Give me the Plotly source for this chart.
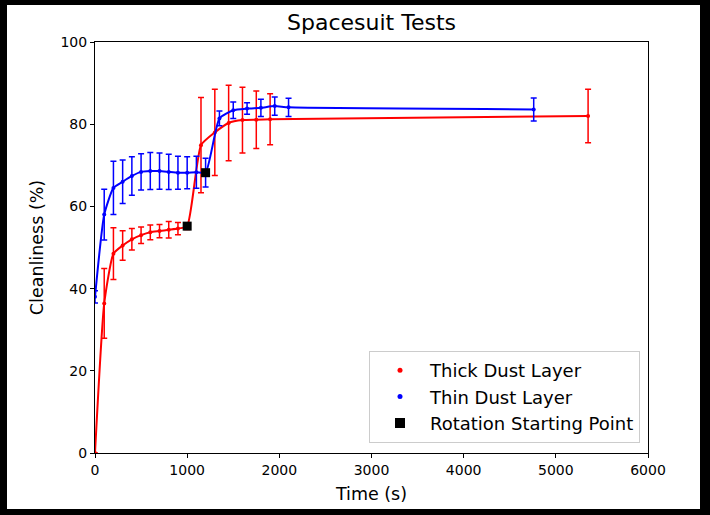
import plotly.graph_objects as go

# Thick dust layer (red)
thick_t = [0, 100, 200, 300, 400, 500, 600, 700, 800, 900, 1000,
           1150, 1300, 1450, 1600, 1750, 1900, 5350]
thick_c = [0, 36.4, 48.5, 50.5, 52.0, 53.0, 53.7, 54.0, 54.3, 54.6, 55.2,
           74.9, 78.0, 80.3, 81.0, 81.1, 81.2, 82.0]
thick_e = [0, 8.5, 6.3, 3.6, 2.6, 2.0, 1.8, 1.6, 2.0, 1.5, 0.8,
           11.6, 10.5, 9.2, 8.0, 7.0, 6.2, 6.5]

# Thin dust layer (blue)
thin_t = [0, 100, 200, 300, 400, 500, 600, 700, 800, 900, 1000, 1100, 1200,
          1350, 1500, 1650, 1800, 1950, 2100, 4760]
thin_c = [38.0, 58.0, 64.5, 66.0, 67.4, 68.4, 68.6, 68.6, 68.4, 68.2, 68.2, 68.3, 68.2,
          81.4, 83.4, 83.8, 84.0, 84.4, 84.1, 83.6]
thin_e = [1.5, 6.2, 6.5, 5.3, 4.7, 4.4, 4.5, 4.4, 4.3, 4.0, 3.9, 3.9, 3.5,
          1.8, 2.0, 1.4, 2.1, 2.2, 2.2, 2.8]

# Rotation starting points
rot_t = [1000, 1200]
rot_c = [55.2, 68.2]

fig = go.Figure()

fig.add_trace(go.Scatter(
    x=thick_t, y=thick_c, mode="lines+markers",
    line=dict(color="#ff0000", width=2, shape="spline", smoothing=0.5),
    marker=dict(color="#ff0000", size=4),
    error_y=dict(type="data", array=thick_e, visible=True, color="#ff0000",
                 thickness=1.5, width=3),
    showlegend=False))

fig.add_trace(go.Scatter(
    x=thin_t, y=thin_c, mode="lines+markers",
    line=dict(color="#0000ff", width=2, shape="spline", smoothing=0.5),
    marker=dict(color="#0000ff", size=4),
    error_y=dict(type="data", array=thin_e, visible=True, color="#0000ff",
                 thickness=1.5, width=3),
    showlegend=False))

fig.add_trace(go.Scatter(
    x=rot_t, y=rot_c, mode="markers",
    marker=dict(color="black", size=9, symbol="square"),
    showlegend=False))

# legend entries
fig.add_trace(go.Scatter(x=[None], y=[None], mode="markers", name="Thick Dust Layer",
                         marker=dict(color="#ff0000", size=5)))
fig.add_trace(go.Scatter(x=[None], y=[None], mode="markers", name="Thin Dust Layer",
                         marker=dict(color="#0000ff", size=5)))
fig.add_trace(go.Scatter(x=[None], y=[None], mode="markers", name="Rotation Starting Point",
                         marker=dict(color="black", size=10, symbol="square")))

L, R, T, B = 95, 62, 42, 62
W, H = 710, 515
pw, ph = W - L - R, H - T - B

def px_to_paper_x(px):
    return (px - L) / pw

def px_to_paper_y(py):
    return (H - B - py) / ph

fig.add_shape(type="rect", xref="paper", yref="paper",
              x0=px_to_paper_x(7), x1=px_to_paper_x(700),
              y0=px_to_paper_y(509), y1=px_to_paper_y(5),
              fillcolor="white", line=dict(width=0), layer="below")

axis_common = dict(showline=True, linecolor="black", linewidth=1, mirror=True,
                   ticks="outside", ticklen=4, tickcolor="black", showgrid=False,
                   zeroline=False, tickfont=dict(size=14, color="black"))

fig.update_layout(
    width=W, height=H,
    margin=dict(l=L, r=R, t=T, b=B),
    paper_bgcolor="black", plot_bgcolor="white",
    font=dict(family="DejaVu Sans", color="black"),
    title=dict(text="Spacesuit Tests", x=0.5, xanchor="center", xref="paper",
               y=1 - 22 / H, yanchor="middle", font=dict(size=22, color="black")),
    xaxis=dict(range=[0, 6000], tickvals=[0, 1000, 2000, 3000, 4000, 5000, 6000],
               title=dict(text="Time (s)", font=dict(size=17.5), standoff=10), **axis_common),
    yaxis=dict(range=[0, 100], tickvals=[0, 20, 40, 60, 80, 100],
               title=dict(text="Cleanliness (%)", font=dict(size=17.5), standoff=12), **axis_common),
    legend=dict(x=px_to_paper_x(640), y=px_to_paper_y(443), xanchor="right", yanchor="bottom",
                bordercolor="#cccccc", borderwidth=1, bgcolor="white", itemwidth=50,
                font=dict(size=18, color="black")),
)

fig.write_html("out.html")
